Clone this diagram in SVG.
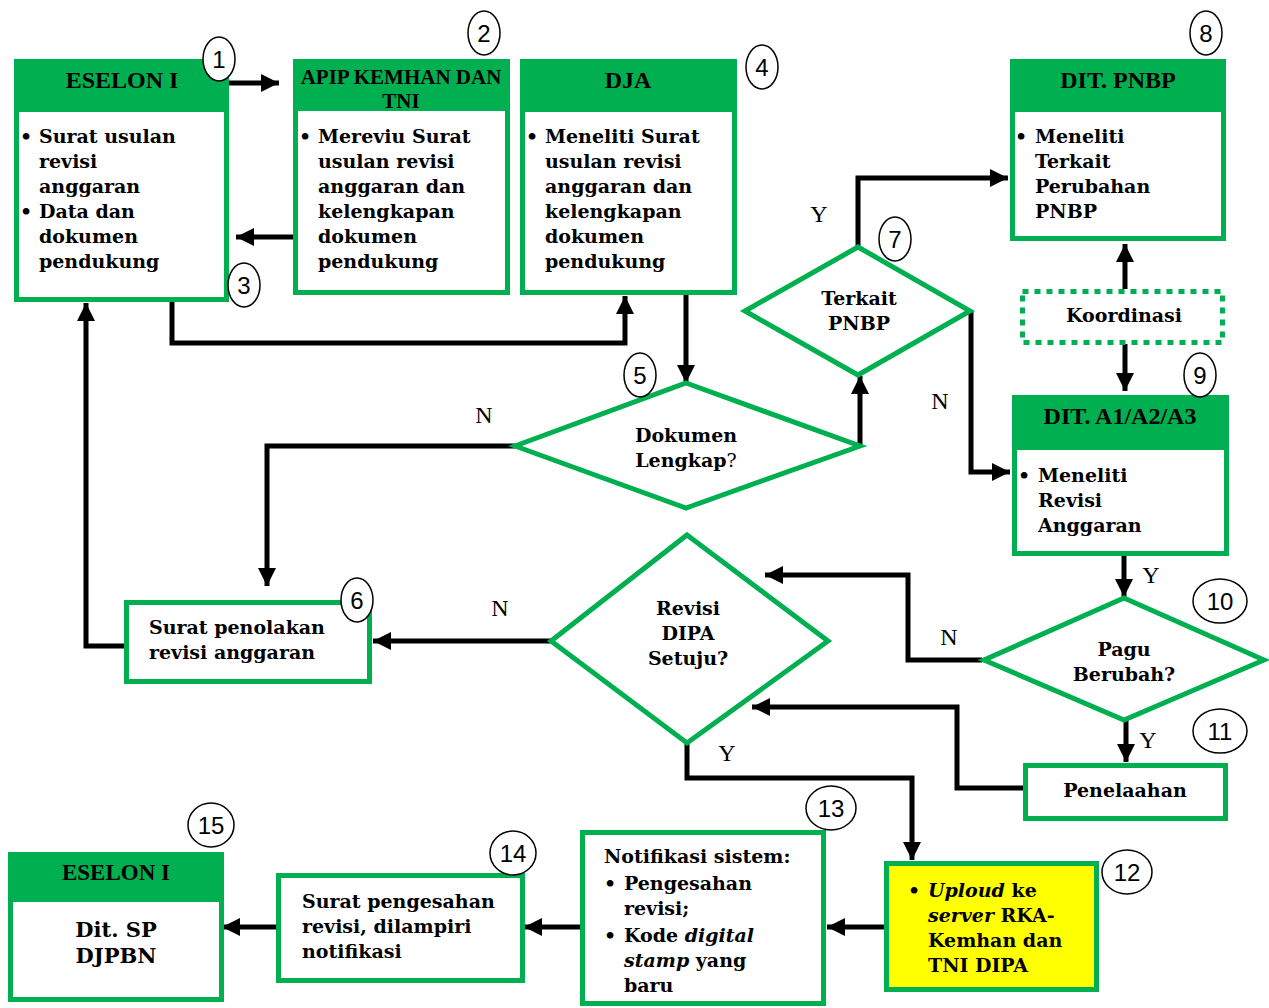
<svg xmlns="http://www.w3.org/2000/svg" width="1269" height="1008" viewBox="0 0 1269 1008">
<style>
.box{fill:#fff;stroke:#00B050;stroke-width:5}
.hdr{fill:#00B050}
.dia{fill:#fff;stroke:#00B050;stroke-width:5}
.h{font-family:"Liberation Serif",serif;font-weight:bold;font-size:24px;fill:#000;text-anchor:middle}
.t{font-family:"DejaVu Serif",serif;font-weight:bold;font-size:19px;fill:#000}
.c{text-anchor:middle}
.yn{font-family:"Liberation Serif",serif;font-size:24px;fill:#000;text-anchor:middle}
.num{font-family:"Liberation Sans",sans-serif;font-size:24px;fill:#000;text-anchor:middle}
.circ{fill:#fff;stroke:#000;stroke-width:1.5}
.con{fill:none;stroke:#000;stroke-width:5;marker-end:url(#ah)}
.con0{fill:none;stroke:#000;stroke-width:5}
</style>
<defs>
<marker id="ah" markerUnits="userSpaceOnUse" markerWidth="20" markerHeight="20" refX="18" refY="9" orient="auto">
<path d="M0,0 L18,9 L0,18 z" fill="#000"/>
</marker>
</defs>

<g id="connectors">
<path class="con" d="M222,83 H279"/>
<path class="con" d="M295,237 H236"/>
<path class="con" d="M172,300 V343 H625 V296"/>
<path class="con" d="M686,295 V383"/>
<path class="con" d="M860,446 V376"/>
<path class="con" d="M858,247 V178 H1008"/>
<path class="con" d="M971,311 V472 H1010"/>
<path class="con" d="M1125,289 V244"/>
<path class="con" d="M1125,344 V391"/>
<path class="con" d="M1124,556 V597"/>
<path class="con" d="M1126,720 V762"/>
<path class="con" d="M982,660 H908 V575 H765"/>
<path class="con" d="M1023,788 H957 V707 H752"/>
<path class="con" d="M687,743 V778 H912 V860"/>
<path class="con" d="M551,641 H373"/>
<path class="con" d="M515,446 H267 V586"/>
<path class="con" d="M124,646 H86 V303"/>
<path class="con" d="M884,927 H827"/>
<path class="con" d="M580,927 H524"/>
<path class="con" d="M276,927 H222"/>
</g>

<g id="n1">
<rect class="box" x="16.5" y="61.5" width="210" height="238"/>
<rect class="hdr" x="14" y="59" width="215" height="53"/>
<text class="h" x="122" y="88">ESELON I</text>
<text class="t"><tspan x="20" y="143">•</tspan><tspan x="39" y="143">Surat usulan</tspan><tspan x="39" y="168">revisi</tspan><tspan x="39" y="193">anggaran</tspan><tspan x="20" y="218">•</tspan><tspan x="39" y="218">Data dan</tspan><tspan x="39" y="243">dokumen</tspan><tspan x="39" y="268">pendukung</tspan></text>
</g>

<g id="n2">
<rect class="hdr" x="293" y="59" width="217" height="53"/>
<text class="h" x="401" y="84" style="font-size:21px">APIP KEMHAN DAN</text>
<text class="h" x="401" y="108" style="font-size:21px">TNI</text>
<rect class="box" x="295.5" y="61.5" width="212" height="231" style="fill:none"/>
<rect x="298" y="111" width="207" height="179" fill="#fff"/>
<text class="t"><tspan x="299" y="143">•</tspan><tspan x="318" y="143">Mereviu Surat</tspan><tspan x="318" y="168">usulan revisi</tspan><tspan x="318" y="193">anggaran dan</tspan><tspan x="318" y="218">kelengkapan</tspan><tspan x="318" y="243">dokumen</tspan><tspan x="318" y="268">pendukung</tspan></text>
</g>

<g id="n3">
<rect class="box" x="522.5" y="61.5" width="212" height="231"/>
<rect class="hdr" x="520" y="59" width="217" height="53"/>
<text class="h" x="628" y="88">DJA</text>
<text class="t"><tspan x="526" y="143">•</tspan><tspan x="545" y="143">Meneliti Surat</tspan><tspan x="545" y="168">usulan revisi</tspan><tspan x="545" y="193">anggaran dan</tspan><tspan x="545" y="218">kelengkapan</tspan><tspan x="545" y="243">dokumen</tspan><tspan x="545" y="268">pendukung</tspan></text>
</g>

<g id="n4">
<rect class="box" x="1012.5" y="61.5" width="211" height="177"/>
<rect class="hdr" x="1010" y="59" width="216" height="53"/>
<text class="h" x="1118" y="88">DIT. PNBP</text>
<text class="t"><tspan x="1015" y="143">•</tspan><tspan x="1035" y="143">Meneliti</tspan><tspan x="1035" y="168">Terkait</tspan><tspan x="1035" y="193">Perubahan</tspan><tspan x="1035" y="218">PNBP</tspan></text>
</g>

<g id="n5">
<rect x="1022.5" y="291.5" width="200" height="51" fill="#fff" stroke="#00B050" stroke-width="5" stroke-dasharray="6 6"/>
<text class="t c" x="1124" y="322">Koordinasi</text>
</g>

<g id="n6">
<rect class="box" x="1014.5" y="397.5" width="212" height="156"/>
<rect class="hdr" x="1012" y="395" width="217" height="55"/>
<text class="h" x="1120" y="424">DIT. A1/A2/A3</text>
<text class="t"><tspan x="1018" y="482">•</tspan><tspan x="1038" y="482">Meneliti</tspan><tspan x="1038" y="507">Revisi</tspan><tspan x="1038" y="532">Anggaran</tspan></text>
</g>

<g id="n7">
<polygon class="dia" points="858,247 970,311 858,375 745,311"/>
<text class="t c"><tspan x="859" y="305">Terkait</tspan><tspan x="859" y="330">PNBP</tspan></text>
</g>

<g id="n8">
<polygon class="dia" points="686,383 860,446 686,508 515,446"/>
<text class="t c"><tspan x="686" y="442">Dokumen</tspan><tspan x="686" y="467">Lengkap<tspan style="font-weight:normal">?</tspan></tspan></text>
</g>

<g id="n9">
<polygon class="dia" points="687,535 828,641 687,743 551,641"/>
<text class="t c"><tspan x="688" y="615">Revisi</tspan><tspan x="688" y="640">DIPA</tspan><tspan x="688" y="665">Setuju?</tspan></text>
</g>

<g id="n10">
<polygon class="dia" points="1124,598 1264,660 1124,720 984,660"/>
<text class="t c"><tspan x="1124" y="656">Pagu</tspan><tspan x="1124" y="681">Berubah?</tspan></text>
</g>

<g id="n11">
<rect class="box" x="1025.5" y="765.5" width="200" height="53"/>
<text class="t c" x="1125" y="797">Penelaahan</text>
</g>

<g id="n12">
<rect class="box" x="126.5" y="602.5" width="243" height="79"/>
<text class="t"><tspan x="149" y="634">Surat penolakan</tspan><tspan x="149" y="659">revisi anggaran</tspan></text>
</g>

<g id="n13">
<rect class="box" x="886.5" y="863.5" width="210" height="126" style="fill:#FFFF00"/>
<text class="t"><tspan x="908" y="897">•</tspan><tspan x="928" y="897" font-style="italic">Uploud</tspan><tspan> ke</tspan><tspan x="928" y="922" font-style="italic">server</tspan><tspan> RKA-</tspan><tspan x="928" y="947">Kemhan dan</tspan><tspan x="928" y="972">TNI DIPA</tspan></text>
</g>

<g id="n14">
<rect class="box" x="582.5" y="832.5" width="241" height="171"/>
<text class="t"><tspan x="604" y="863">Notifikasi sistem:</tspan><tspan x="604" y="890">•</tspan><tspan x="624" y="890">Pengesahan</tspan><tspan x="624" y="915">revisi;</tspan><tspan x="604" y="942">•</tspan><tspan x="624" y="942">Kode </tspan><tspan font-style="italic">digital</tspan><tspan x="624" y="967" font-style="italic">stamp</tspan><tspan> yang</tspan><tspan x="624" y="992">baru</tspan></text>
</g>

<g id="n15">
<rect class="box" x="278.5" y="875.5" width="244" height="105"/>
<text class="t"><tspan x="302" y="908">Surat pengesahan</tspan><tspan x="302" y="933">revisi, dilampiri</tspan><tspan x="302" y="958">notifikasi</tspan></text>
</g>

<g id="n16">
<rect class="box" x="10.5" y="854.5" width="211" height="145"/>
<rect class="hdr" x="8" y="852" width="216" height="50"/>
<text class="h" x="116" y="880" style="font-size:23px">ESELON I</text>
<text class="t c" style="font-size:21px"><tspan x="116" y="937">Dit. SP</tspan><tspan x="116" y="963">DJPBN</tspan></text>
</g>

<g id="labels">
<text class="yn" x="819" y="222">Y</text>
<text class="yn" x="940" y="409">N</text>
<text class="yn" x="484" y="423">N</text>
<text class="yn" x="500" y="616">N</text>
<text class="yn" x="949" y="645">N</text>
<text class="yn" x="1151" y="583">Y</text>
<text class="yn" x="1148" y="748">Y</text>
<text class="yn" x="727" y="761">Y</text>
</g>

<g id="numbers">
<ellipse class="circ" cx="219" cy="59" rx="16" ry="22"/><text class="num" x="219" y="68">1</text>
<ellipse class="circ" cx="484" cy="33" rx="16" ry="22"/><text class="num" x="484" y="42">2</text>
<ellipse class="circ" cx="244" cy="285" rx="16" ry="22"/><text class="num" x="244" y="294">3</text>
<ellipse class="circ" cx="762" cy="67" rx="16" ry="22"/><text class="num" x="762" y="76">4</text>
<ellipse class="circ" cx="640" cy="375" rx="16" ry="22"/><text class="num" x="640" y="384">5</text>
<ellipse class="circ" cx="357" cy="600" rx="16" ry="22"/><text class="num" x="357" y="609">6</text>
<ellipse class="circ" cx="895" cy="239" rx="16" ry="22"/><text class="num" x="895" y="248">7</text>
<ellipse class="circ" cx="1206" cy="33" rx="16" ry="22"/><text class="num" x="1206" y="42">8</text>
<ellipse class="circ" cx="1200" cy="375" rx="16" ry="22"/><text class="num" x="1200" y="384">9</text>
<ellipse class="circ" cx="1220" cy="601" rx="27" ry="22"/><text class="num" x="1220" y="610">10</text>
<ellipse class="circ" cx="1220" cy="731" rx="27" ry="22"/><text class="num" x="1220" y="740">11</text>
<ellipse class="circ" cx="1127" cy="872" rx="25" ry="22"/><text class="num" x="1127" y="881">12</text>
<ellipse class="circ" cx="831" cy="808" rx="25" ry="22"/><text class="num" x="831" y="817">13</text>
<ellipse class="circ" cx="513" cy="853" rx="23" ry="22"/><text class="num" x="513" y="862">14</text>
<ellipse class="circ" cx="211" cy="825" rx="23" ry="22"/><text class="num" x="211" y="834">15</text>
</g>
</svg>
